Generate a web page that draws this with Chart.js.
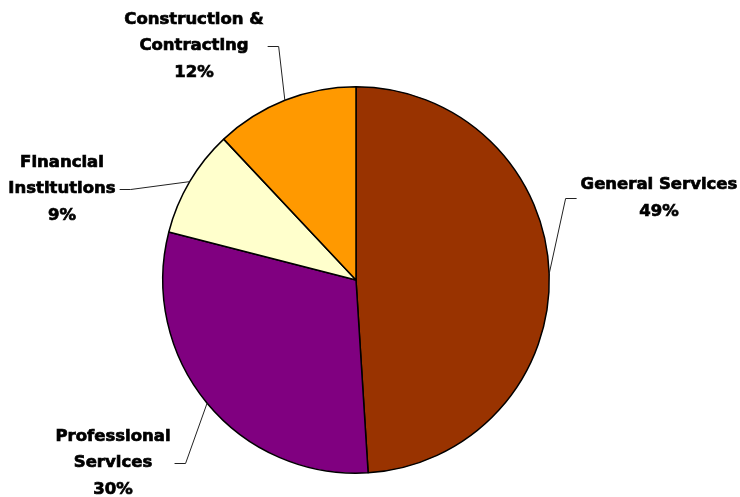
<!DOCTYPE html>
<html>
<head>
<meta charset="utf-8">
<script src="https://cdn.jsdelivr.net/npm/chart.js@4.4.1/dist/chart.umd.min.js"></script>
<style>
  body { margin: 0; background: #fff; }
  #wrap { width: 740px; height: 497px; }
</style>
</head>
<body>
<div id="wrap"><canvas id="chart" width="740" height="497"></canvas></div>
<script>
// sector shares, clockwise from 12 o'clock
const sectors = ['General Services', 'Professional Services', 'Financial Institutions', 'Construction & Contracting'];
const shares = [49, 30, 9, 12];
const sliceColors = ['#993300', '#800080', '#FFFFCC', '#FF9900'];
// how each callout label is broken into lines
const labelLines = [
    ['General Services'],
    ['Professional', 'Services'],
    ['Financial', 'Institutions'],
    ['Construction &', 'Contracting']
];

// callout block centres and which side the leader leaves from
const callouts = [
    { x: 659, y: 198, side: 'left' },
    { x: 113, y: 463, side: 'right' },
    { x: 62, y: 189, side: 'right' },
    { x: 194, y: 46, side: 'right' }
];

const calloutPlugin = {
    id: 'callouts',
    afterDraw(chart) {
        const ctx = chart.ctx;
        const meta = chart.getDatasetMeta(0);
        const total = shares.reduce((a, b) => a + b, 0);
        ctx.save();
        ctx.font = 'bold 16.5px "DejaVu Sans", Arial, sans-serif';
        ctx.fillStyle = '#000';
        ctx.strokeStyle = '#000';
        ctx.lineWidth = 0.7;
        ctx.textAlign = 'center';
        ctx.textBaseline = 'middle';
        const lh = 26.5;
        meta.data.forEach((arc, i) => {
            const c = callouts[i];
            const lines = labelLines[i].concat([Math.round(shares[i] / total * 100) + '%']);
            const top = c.y - (lines.length - 1) * lh / 2;
            let w = 0;
            lines.forEach((t, k) => {
                ctx.fillText(t, c.x, top + k * lh);
                ctx.strokeText(t, c.x, top + k * lh);
                w = Math.max(w, ctx.measureText(t).width);
            });
            // leader: short horizontal tick, then to the arc edge at mid-angle
            const p = arc.getProps(['x', 'y', 'startAngle', 'endAngle', 'outerRadius'], true);
            const mid = (p.startAngle + p.endAngle) / 2;
            const ex = p.x + Math.cos(mid) * p.outerRadius;
            const ey = p.y + Math.sin(mid) * p.outerRadius;
            const dir = c.side === 'right' ? 1 : -1;
            const x0 = c.x + dir * (w / 2 + 4);
            const x1 = x0 + dir * 11;
            ctx.beginPath();
            ctx.strokeStyle = '#222';
            ctx.lineWidth = 1;
            ctx.moveTo(x0, c.y + 0.5);
            ctx.lineTo(x1, c.y + 0.5);
            ctx.lineTo(ex, ey);
            ctx.stroke();
            ctx.strokeStyle = '#000';
            ctx.lineWidth = 0.7;
        });
        ctx.restore();
    }
};

new Chart(document.getElementById('chart'), {
    type: 'pie',
    data: {
        labels: sectors,
        datasets: [{
            data: shares,
            backgroundColor: sliceColors,
            borderColor: '#000',
            borderWidth: 1.5
        }]
    },
    options: {
        responsive: false,
        animation: false,
        layout: { padding: { left: 162, right: 190, top: 86, bottom: 23 } },
        plugins: {
            legend: { display: false },
            tooltip: { enabled: false }
        }
    },
    plugins: [calloutPlugin]
});
</script>
</body>
</html>
